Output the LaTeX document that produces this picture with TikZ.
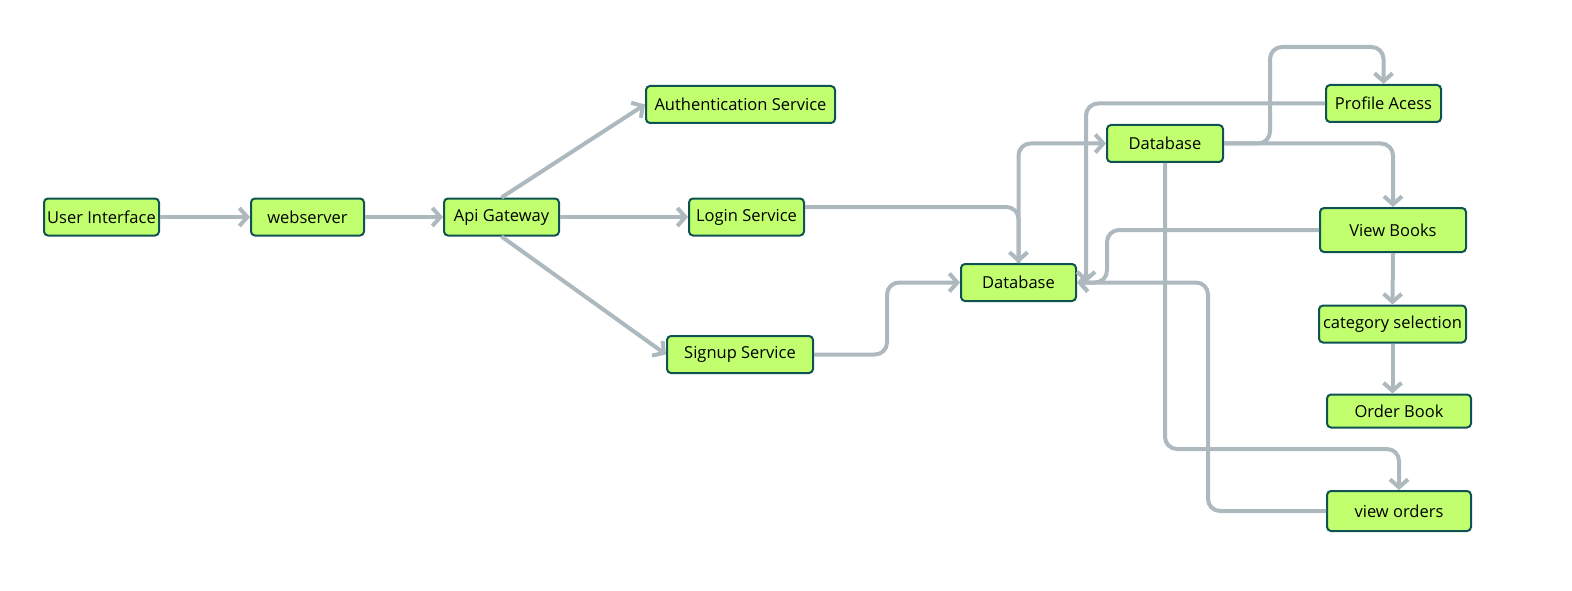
\documentclass[tikz,border=0pt]{standalone}
\usepackage{fontspec}
\setmainfont{Open Sans}
\usetikzlibrary{arrows.meta,calc}
\definecolor{boxfill}{HTML}{C1FF6F}
\definecolor{boxline}{HTML}{0E5252}
\definecolor{linkgray}{HTML}{ADB8BF}
\begin{document}
\begin{tikzpicture}[x=1pt, y=-1pt,
    box/.style={draw=boxline, fill=boxfill, line width=2pt, rounded corners=4pt, inner sep=0pt,
        minimum height=37pt, font=\fontsize{16.5}{18}\selectfont, text=black},
    link/.style={draw=linkgray, line width=4pt, rounded corners=12pt,
        -{Straight Barb[length=8pt, width=18pt, line width=4pt]}}]
    \useasboundingbox (0, 0) rectangle (1572, 591);
    % front end
    \node[box, minimum width=115pt] (ui) at (101.5, 217) {User Interface};
    \node[box, minimum width=113pt] (web) at (307.5, 217) {webserver};
    \node[box, minimum width=115pt] (gw) at (501.5, 217) {Api Gateway};
    % services
    \node[box, minimum width=189pt] (auth) at (740.5, 104.5) {Authentication Service};
    \node[box, minimum width=115pt] (login) at (746.5, 217) {Login Service};
    \node[box, minimum width=146pt] (signup) at (740, 354.5) {Signup Service};
    % storage
    \node[box, minimum width=115pt] (dbl) at (1018.5, 282.5) {Database};
    \node[box, minimum width=116pt] (dbu) at (1165, 143.5) {Database};
    % user actions
    \node[box, minimum width=115pt] (prof) at (1383.5, 103.5) {Profile Acess};
    \node[box, minimum width=146pt, minimum height=44pt] (books) at (1393, 230) {View Books};
    \node[box, minimum width=147pt] (cat) at (1392.5, 324) {category selection};
    \node[box, minimum width=144pt, minimum height=33pt] (order) at (1399, 411) {Order Book};
    \node[box, minimum width=144pt, minimum height=40pt] (orders) at (1399, 511) {view orders};
    % connectors
    \draw[link] (ui) -- (web);
    \draw[link] (web) -- (gw);
    \draw[link] (gw.north) -- (auth.west);
    \draw[link] (gw) -- (login);
    \draw[link] (gw.south) -- (signup.west);
    \draw[link] ([yshift=10pt]login.east) -| (dbl.north);
    \draw[link] (signup.east) -| ($(signup.east)!0.5!(dbl.west)$) |- (dbl.west);
    \draw[link] (dbl.north) |- (dbu.west);
    \draw[link] (dbu.east) -| (1270, 47) -| (prof.north);
    \draw[link] (dbu.east) -| (books.north);
    \draw[link] (prof.west) -| ([xshift=9pt]dbl.east);
    \draw[link] (books.west) -| ($(dbl.east)+(30, 0)$) -- (dbl.east);
    \draw[link] (dbu.south) |- ($(orders.north)+(0, -41)$) -- (orders.north);
    \draw[link] (orders.west) -| ($(dbl.east)+(131, 0)$) -- (dbl.east);
    \draw[link] (books.south) -- (cat.north);
    \draw[link] (cat.south) -- (cat.south |- order.north);
\end{tikzpicture}
\end{document}
